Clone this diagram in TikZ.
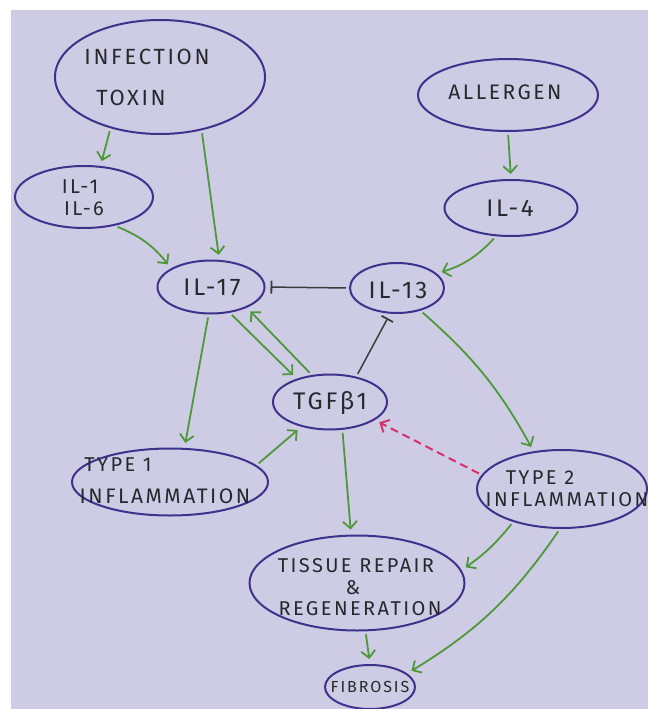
\documentclass[tikz,border=0pt]{standalone}
\usepackage{fontspec}
\setmainfont{Fira Sans}[LetterSpace=12]
\usetikzlibrary{shapes.geometric,arrows.meta}
\definecolor{paper}{RGB}{206,204,229}
\definecolor{ink}{RGB}{62,50,140}
\definecolor{leaf}{RGB}{78,152,58}
\definecolor{pen}{RGB}{60,60,60}
\definecolor{pinkish}{RGB}{214,48,110}
\definecolor{txtc}{RGB}{40,40,44}
\tikzset{
  ell/.style={ellipse, draw=ink, line width=2pt, inner sep=0pt},
  txt/.style={text=txtc, font=\fontsize{20}{22}\selectfont, inner sep=0pt},
  big/.style={font=\fontsize{24}{26}\selectfont},
  gar/.style={draw=leaf, line width=1.8pt, -{Straight Barb[length=7pt,width=14pt,line width=1.8pt]}, shorten <=3pt, shorten >=5pt},
  inh/.style={draw=pen, line width=1.5pt, -{Bar[width=13pt,line width=1.8pt]}, shorten <=3pt, shorten >=5pt},
  pdash/.style={draw=pinkish, line width=2pt, dash pattern=on 8pt off 5pt, -{Straight Barb[length=7pt,width=14pt,line width=2pt]}, shorten <=3pt, shorten >=5pt}
}
\begin{document}
\begin{tikzpicture}[x=1pt,y=-1pt]
\useasboundingbox (0,0) rectangle (648,709);
\fill[paper] (11,10) rectangle (648,709);

% ellipses
\node[ell, minimum width=210pt, minimum height=114pt] (inf) at (160,77) {};
\node[ell, minimum width=180pt, minimum height=72pt] (all) at (508,95) {};
\node[ell, minimum width=138pt, minimum height=62pt] (il16) at (84,197) {};
\node[ell, minimum width=133pt, minimum height=56pt] (il4) at (511,208) {};
\node[ell, minimum width=107pt, minimum height=53pt] (il17) at (211,287) {};
\node[ell, minimum width=94pt, minimum height=50pt] (il13) at (397,288) {};
\node[ell, minimum width=114pt, minimum height=55pt] (tgf) at (330,402) {};
\node[ell, minimum width=196pt, minimum height=67pt] (t1) at (170,482) {};
\node[ell, minimum width=170pt, minimum height=78pt] (t2) at (562,489) {};
\node[ell, minimum width=215pt, minimum height=95pt] (tis) at (357,583) {};
\node[ell, minimum width=90pt, minimum height=44pt] (fib) at (370,687) {};

% texts
\node[txt, font=\fontsize{22}{24}\selectfont] (inf-a) at (147,57) {INFECTION};
\node[txt, font=\fontsize{22}{24}\selectfont] (inf-b) at (131,98) {TOXIN};
\node[txt, font=\fontsize{21}{24}\selectfont] (all-t) at (505,92) {ALLERGEN};
\node[txt] (il16-a) at (80,187) {IL-1};
\node[txt] (il16-b) at (84,209) {IL-6};
\node[txt, big] (il4-t) at (510,208) {IL-4};
\node[txt, big] (il17-t) at (212,287) {IL-17};
\node[txt, big] (il13-t) at (398,290) {IL-13};
\node[txt, big] (tgf-t) at (330,403) {TGFβ1};
\node[txt] (t1-a) at (118,465) {TYPE 1};
\node[txt, font=\fontsize{21}{24}\selectfont] (t1-b) at (165,496) {INFLAMMATION};
\node[txt] (t2-a) at (540,478) {TYPE 2};
\node[txt] (t2-b) at (567,500) {INFLAMMATION};
\node[txt] (tis-a) at (356,566) {TISSUE REPAIR};
\node[txt] (tis-b) at (353,588) {\&};
\node[txt] (tis-c) at (360,609) {REGENERATION};
\node[txt, font=\fontsize{16}{18}\selectfont] (fib-t) at (370,687) {FIBROSIS};

% connectors
\draw[gar] (inf.-134) -- (il16.62);
\draw[gar] (inf.-52) -- (il17.73);
\draw[gar] (il16.-43) to[bend left=15] (il17.155);
\draw[gar] (all.-90) -- (il4.90);
\draw[gar] (il4.-118) to[bend left=15] (il13.20);
\draw[inh] (il13.west) -- (il17.east);
\draw[gar] (il17.-54) -- (tgf.145);
\draw[gar] (tgf.124) -- (il17.-30);
\draw[inh] (tgf.44) -- (il13.-105);
\draw[gar] (il17.-95) -- (t1.67);
\draw[gar] (t1.11) -- (tgf.-139);
\draw[gar] (il13.-44) to[bend left=10] (t2.127);
\draw[gar] (tgf.-66) -- (tis.97);
\draw[pdash] (t2.170) -- (tgf.-22);
\draw[gar] (t2.-146) to[bend left=8] (tis.7);
\draw[gar] (t2.-93) to[bend left=12] (fib.20);
\draw[gar] (tis.-80) -- (fib.90);
\end{tikzpicture}
\end{document}
